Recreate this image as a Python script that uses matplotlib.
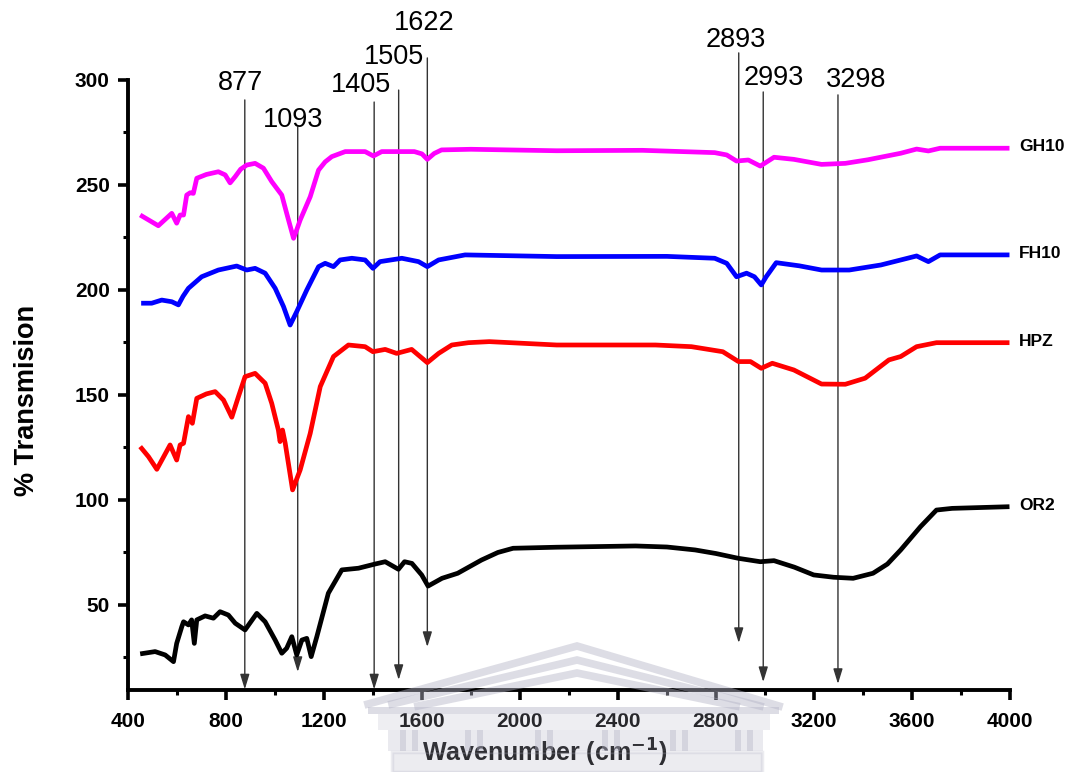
import matplotlib
matplotlib.use("Agg")
import matplotlib.pyplot as plt
from matplotlib.patches import Rectangle
from matplotlib.lines import Line2D
from matplotlib.ticker import MultipleLocator

plt.rcParams['font.family'] = ['Liberation Sans', 'DejaVu Sans']

# ---- FTIR spectra (wavenumber in cm^-1, % transmission, offset stacked) ----
gh10_x = [450, 524, 579, 599, 613, 627, 640, 654, 667, 681, 720, 769, 797, 817, 838, 860,
          885, 919, 953, 987, 1028, 1048, 1076, 1090, 1103, 1144, 1178, 1205, 1232, 1287,
          1368, 1402, 1436, 1504, 1569, 1600, 1622, 1650, 1680, 1800, 2150, 2500, 2795,
          2844, 2884, 2932, 2981, 3037, 3118, 3231, 3328, 3420, 3554, 3619, 3667, 3715,
          3998]
gh10_y = [235.7, 230.6, 236.5, 231.8, 235.7, 235.7, 245.2, 246.3, 246.0, 253.2, 255.0,
          256.3, 254.8, 251.0, 254.0, 257.5, 259.5, 260.3, 258.0, 251.6, 245.2, 236.5,
          224.6, 229.0, 233.3, 244.4, 257.1, 261.0, 263.5, 265.9, 265.9, 263.8, 265.9,
          265.9, 265.9, 264.8, 262.2, 265.0, 266.7, 267.0, 266.3, 266.5, 265.4, 264.3,
          261.4, 261.9, 259.0, 263.2, 262.2, 259.8, 260.3, 262.0, 265.1, 267.1, 266.2,
          267.5, 267.5]

fh10_x = [454, 497, 538, 579, 606, 625, 647, 701, 769, 844, 885, 919, 960, 1001, 1035,
          1062, 1089, 1130, 1178, 1205, 1239, 1266, 1314, 1368, 1400, 1429, 1518, 1586,
          1622, 1668, 1776, 2150, 2600, 2795, 2844, 2884, 2925, 2957, 2985, 3005, 3046,
          3140, 3231, 3344, 3473, 3619, 3667, 3715, 3998]
fh10_y = [193.7, 193.7, 195.2, 194.4, 192.9, 197.0, 200.8, 206.3, 209.5, 211.4, 209.5,
          210.3, 208.0, 200.8, 192.1, 183.3, 189.7, 200.0, 211.1, 212.7, 211.1, 214.3,
          215.1, 214.3, 210.3, 213.5, 215.1, 213.5, 211.1, 214.3, 216.7, 215.9, 216.0,
          215.1, 212.7, 206.3, 208.0, 206.3, 202.4, 206.3, 213.0, 211.5, 209.5, 209.5,
          211.9, 216.2, 213.5, 216.7, 216.7]

hpz_x = [450, 484, 518, 572, 599, 613, 627, 647, 663, 681, 720, 756, 790, 824, 851, 878,
         919, 960, 987, 1014, 1021, 1031, 1042, 1072, 1103, 1144, 1185, 1239, 1300, 1368,
         1400, 1450, 1497, 1558, 1622, 1668, 1722, 1790, 1875, 2150, 2553, 2700, 2828,
         2892, 2941, 2985, 3030, 3118, 3231, 3328, 3409, 3506, 3554, 3619, 3700, 3998]
hpz_y = [125.4, 120.6, 114.6, 126.2, 119.0, 126.2, 127.0, 139.7, 136.5, 148.4, 150.5,
         151.6, 147.6, 139.4, 149.2, 158.7, 160.3, 155.6, 146.0, 133.3, 127.8, 133.3,
         127.0, 104.8, 114.3, 131.7, 154.0, 168.3, 173.8, 173.0, 170.6, 171.7, 169.8,
         171.7, 165.4, 169.8, 173.8, 174.9, 175.4, 173.8, 173.8, 173.0, 170.6, 165.9,
         165.9, 162.7, 165.1, 161.9, 155.2, 155.1, 158.0, 166.7, 168.3, 173.0, 174.9,
         174.9]

or2_x = [450, 511, 552, 586, 599, 620, 627, 647, 660, 671, 681, 715, 749, 776, 810, 838,
         878, 926, 960, 1001, 1028, 1048, 1069, 1089, 1110, 1130, 1148, 1171, 1218, 1273,
         1341, 1409, 1450, 1504, 1529, 1559, 1599, 1625, 1682, 1746, 1843, 1910, 1972,
         2150, 2472, 2600, 2715, 2800, 2892, 2981, 3037, 3120, 3199, 3280, 3360, 3441,
         3500, 3554, 3635, 3700, 3764, 3998]
or2_y = [26.7, 27.8, 26.2, 23.0, 31.7, 39.7, 42.0, 40.5, 42.9, 31.7, 42.9, 44.8, 43.7,
         46.8, 45.2, 41.3, 38.1, 46.0, 42.0, 33.3, 27.0, 29.4, 34.9, 26.2, 33.3, 34.1,
         25.4, 34.9, 55.6, 66.7, 67.5, 69.5, 70.6, 67.0, 70.6, 69.8, 64.3, 59.0, 62.7,
         65.1, 71.4, 75.0, 77.0, 77.5, 78.1, 77.6, 76.2, 74.5, 72.2, 70.6, 71.1, 68.0,
         64.3, 63.2, 62.7, 65.1, 69.5, 76.2, 87.3, 95.2, 96.0, 96.8]

series_names = ['GH10', 'FH10', 'HPZ', 'OR2']
series_colors = ['#FF00FF', '#0000FF', '#FF0000', '#000000']
series_x = [gh10_x, fh10_x, hpz_x, or2_x]
series_y = [gh10_y, fh10_y, hpz_y, or2_y]

# ---- band assignments: arrow x, arrow tail (top), arrow tip ----
peak_labels = ['877', '1093', '1405', '1505', '1622', '2893', '2993', '3298']
peak_x = [877, 1093, 1405, 1505, 1622, 2893, 2993, 3298]
arrow_top = [290.5, 277.6, 289.5, 295.2, 310.5, 312.9, 294.3, 292.9]
arrow_tip = [9.8, 18.1, 9.8, 14.3, 30.0, 31.9, 13.3, 12.4]
# label centre positions (data units)
label_x = [859, 1076, 1353, 1488, 1610, 2880, 3035, 3374]
label_y = [298.6, 281.0, 297.6, 311.0, 327.0, 319.0, 301.0, 300.0]

fig = plt.figure(figsize=(10.75, 7.72), dpi=100)
ax = fig.add_axes([0.119, 0.1062, 0.8205, 0.7902])

for name, c, xs, ys in zip(series_names, series_colors, series_x, series_y):
    ax.plot(xs, ys, color=c, lw=3.4, solid_joinstyle='round', solid_capstyle='butt', zorder=3)
    ax.annotate(name, xy=(xs[-1], ys[-1]), xytext=(7, 1), textcoords='offset points',
                ha='left', va='center', fontsize=12.5, fontweight='bold',
                annotation_clip=False)

for lab, px_, top, tip, lx, ly in zip(peak_labels, peak_x, arrow_top, arrow_tip, label_x, label_y):
    ax.annotate('', xy=(px_, tip), xytext=(px_, top),
                arrowprops=dict(arrowstyle='-|>,head_length=0.65,head_width=0.2',
                                color='#333333', lw=1.0, shrinkA=0, shrinkB=0,
                                mutation_scale=14),
                annotation_clip=False, zorder=2)
    ax.text(lx, ly, lab, ha='center', va='center', fontsize=19.5, clip_on=False)

ax.set_xlim(400, 4000)
ax.set_ylim(9.5, 300)
ax.xaxis.set_major_locator(MultipleLocator(400))
ax.xaxis.set_minor_locator(MultipleLocator(200))
ax.yaxis.set_major_locator(MultipleLocator(50))
ax.yaxis.set_minor_locator(MultipleLocator(25))
ax.set_yticks([50, 100, 150, 200, 250, 300])

for s in ['top', 'right']:
    ax.spines[s].set_visible(False)
for s in ['left', 'bottom']:
    ax.spines[s].set_linewidth(2.8)

ax.tick_params(which='major', direction='out', length=7, width=2.6, labelsize=15)
ax.tick_params(which='minor', direction='out', length=3.5, width=2.2)
ax.tick_params(axis='x', which='major', pad=9)
ax.tick_params(axis='y', which='major', pad=6)
for t in ax.get_xticklabels() + ax.get_yticklabels():
    t.set_fontweight('bold')

ax.set_ylabel('% Transmision', fontsize=19.5, fontweight='bold')
ax.yaxis.set_label_coords(-0.100, 0.475)
ax.set_xlabel('Wavenumber (cm$^{\\mathbf{-1}}$)', fontsize=18, fontweight='bold')
ax.xaxis.set_label_coords(0.473, -0.076)

# ---- faint emblem watermark across the lower edge ----
W, H = 1075.0, 772.0
def fpx(x, y):
    return (x / W, 1 - y / H)

wm = '#b4b4c6'
roofs = [[(368, 704), (577, 646), (779, 706)],
         [(392, 704), (577, 660), (760, 706)],
         [(418, 706), (577, 673), (736, 706)]]
for r in roofs:
    xs_, ys_ = zip(*[fpx(*p) for p in r])
    fig.add_artist(Line2D(xs_, ys_, transform=fig.transFigure, color=wm, lw=5.5,
                          alpha=0.45, solid_joinstyle='miter', zorder=10))

def wrect(x0, y0, x1, y1, **kw):
    (fx0, fy1) = fpx(x0, y1)
    (fx1, fy0) = fpx(x1, y0)
    fig.add_artist(Rectangle((fx0, fy1), fx1 - fx0, fy0 - fy1,
                             transform=fig.transFigure, zorder=10, **kw))

wrect(368, 707, 779, 714, facecolor=wm, edgecolor='none', alpha=0.45)
wrect(378, 714, 770, 730, facecolor=wm, edgecolor='none', alpha=0.22)
wrect(388, 730, 763, 751, facecolor=wm, edgecolor='none', alpha=0.28)
for cx in [400, 412, 465, 477, 535, 547, 602, 614, 670, 682, 735, 747]:
    wrect(cx, 730, cx + 6, 751, facecolor=wm, edgecolor='none', alpha=0.4)
wrect(392, 752, 762, 772, facecolor=wm, edgecolor=wm, lw=2.5, alpha=0.25)

fig.savefig('out.png', dpi=100, facecolor='white')
